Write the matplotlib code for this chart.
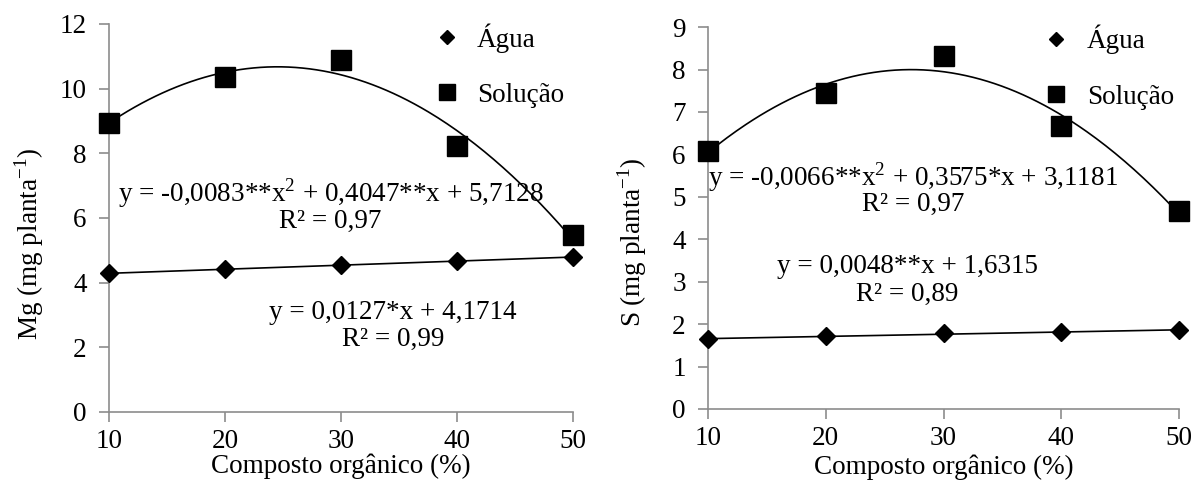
import numpy as np
import matplotlib
matplotlib.use("Agg")
import matplotlib.pyplot as plt

plt.rcParams['font.family'] = ['Liberation Serif', 'DejaVu Serif']
plt.rcParams['mathtext.fontset'] = 'custom'
plt.rcParams['mathtext.rm'] = 'Liberation Serif'

# data
composto = [10, 20, 30, 40, 50]

mg_agua = [4.29, 4.41, 4.54, 4.67, 4.79]
mg_solucao = [8.94, 10.35, 10.89, 8.24, 5.48]

s_agua = [1.64, 1.72, 1.78, 1.82, 1.85]
s_solucao = [6.09, 7.44, 8.31, 6.66, 4.67]

mg_eqs = ['y = -0,0083**x$^{\\mathregular{2}}$ + 0,4047**x + 5,7128', 'R² = 0,97',
          'y = 0,0127*x + 4,1714', 'R² = 0,99']
s_eqs = ['y = -0,0066**x$^{\\mathregular{2}}$ + 0,3575*x + 3,1181', 'R² = 0,97',
         'y = 0,0048**x + 1,6315', 'R² = 0,89']

GRAY = '#8c8c8c'
FS = 19.5

fig = plt.figure(figsize=(11.94, 4.84), dpi=100)
ax1 = fig.add_axes([0.0913, 0.1488, 0.3886, 0.8017])
ax2 = fig.add_axes([0.593, 0.155, 0.3945, 0.789])


def panel(ax, agua, sol, ymax, ystep, ylabel, eqs, eqpos, labpos, xlabpos, legpos):
    xs = np.array(composto, dtype=float)
    xx = np.linspace(10, 50, 200)
    # trendlines fitted to the data
    c2 = np.polyfit(xs, sol, 2)
    c1 = np.polyfit(xs, agua, 1)
    ax.plot(xx, np.polyval(c2, xx), color='black', lw=1.2, clip_on=False, zorder=2)
    ax.plot(xx, np.polyval(c1, xx), color='black', lw=1.2, clip_on=False, zorder=2)
    ax.plot(composto, agua, ls='none', marker='D', ms=9.5, color='black',
            clip_on=False, zorder=3, label='Água')
    ax.plot(composto, sol, ls='none', marker='s', ms=15, color='black',
            clip_on=False, zorder=3, label='Solução')

    ax.set_xlim(10, 50)
    ax.set_ylim(0, ymax)
    ax.set_xticks(composto)
    ax.set_yticks(np.arange(0, ymax + 0.01, ystep))
    for side in ['top', 'right']:
        ax.spines[side].set_visible(False)
    for side in ['left', 'bottom']:
        ax.spines[side].set_color(GRAY)
        ax.spines[side].set_linewidth(1.2)
    ax.tick_params(axis='both', colors=GRAY, labelcolor='black', labelsize=FS,
                   length=7, width=1.2, direction='out')
    ax.tick_params(axis='y', pad=9)
    ax.tick_params(axis='x', pad=5)
    ax.set_xlabel('Composto orgânico (%)', fontsize=FS)
    ax.xaxis.set_label_coords(*xlabpos)
    ax.set_ylabel(ylabel, fontsize=FS)
    ax.yaxis.set_label_coords(*labpos)

    for txt, (x, y) in zip(eqs, eqpos):
        ax.text(x, y, txt, fontsize=FS, ha='center', va='center')

    ax.legend(loc='upper left', bbox_to_anchor=legpos, frameon=False,
              fontsize=FS, handlelength=1.0, handletextpad=0.62,
              labelspacing=1.12, markerscale=0.8, numpoints=1)


panel(ax1, mg_agua, mg_solucao, 12, 2, 'Mg (mg planta$^{\\mathregular{-1}}$)', mg_eqs,
      [(29.1, 6.77), (29.1, 5.88), (34.5, 3.09), (34.5, 2.23)], (-0.136, 0.433),
      (0.5, -0.108), (0.646, 1.065))
panel(ax2, s_agua, s_solucao, 9, 1, 'S (mg planta$^{\\mathregular{-1}}$)', s_eqs,
      [(27.4, 5.47), (27.4, 4.81), (26.9, 3.35), (26.9, 2.69)], (-0.125, 0.437),
      (0.5, -0.118), (0.659, 1.07))

fig.savefig('out.png', dpi=100)
